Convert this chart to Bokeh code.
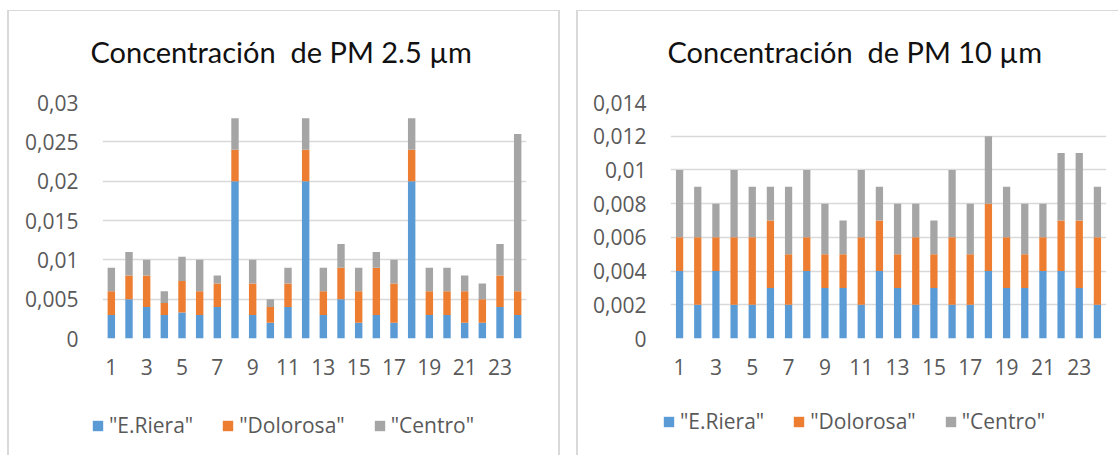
from bokeh.plotting import figure
from bokeh.models import ColumnDataSource, FixedTicker, Legend, LegendItem, Range1d
from bokeh.layouts import row, column
from bokeh.embed import file_html
from bokeh.resources import INLINE

# ---------------- data ----------------
hours = list(range(1, 25))
x_ticks = [1, 3, 5, 7, 9, 11, 13, 15, 17, 19, 21, 23]
x_tick_labels = [str(t) for t in x_ticks]

series_names = ['"E.Riera"', '"Dolorosa"', '"Centro"']
series_colors = ["#5B9BD5", "#ED7D31", "#A5A5A5"]

pm25_title = "Concentración\u00a0 de PM 2.5 µm"
pm25_riera = [0.003, 0.005, 0.004, 0.003, 0.0033, 0.003, 0.004, 0.02, 0.003, 0.002, 0.004, 0.02,
              0.003, 0.005, 0.002, 0.003, 0.002, 0.02, 0.003, 0.003, 0.002, 0.002, 0.004, 0.003]
pm25_dolorosa = [0.003, 0.003, 0.004, 0.0015, 0.004, 0.003, 0.003, 0.004, 0.004, 0.002, 0.003, 0.004,
                 0.003, 0.004, 0.004, 0.006, 0.005, 0.004, 0.003, 0.003, 0.004, 0.003, 0.004, 0.003]
pm25_centro = [0.003, 0.003, 0.002, 0.0015, 0.0031, 0.004, 0.001, 0.004, 0.003, 0.001, 0.002, 0.004,
               0.003, 0.003, 0.003, 0.002, 0.003, 0.004, 0.003, 0.003, 0.002, 0.002, 0.004, 0.02]
pm25_y_ticks = [0, 0.005, 0.01, 0.015, 0.02, 0.025, 0.03]
pm25_y_labels = ["0", "0,005", "0,01", "0,015", "0,02", "0,025", "0,03"]

pm10_title = "Concentración\u00a0 de PM 10 µm"
pm10_riera = [0.004, 0.002, 0.004, 0.002, 0.002, 0.003, 0.002, 0.004, 0.003, 0.003, 0.002, 0.004,
              0.003, 0.002, 0.003, 0.002, 0.002, 0.004, 0.003, 0.003, 0.004, 0.004, 0.003, 0.002]
pm10_dolorosa = [0.002, 0.004, 0.002, 0.004, 0.004, 0.004, 0.003, 0.002, 0.002, 0.002, 0.004, 0.003,
                 0.002, 0.004, 0.002, 0.004, 0.003, 0.004, 0.003, 0.002, 0.002, 0.003, 0.004, 0.004]
pm10_centro = [0.004, 0.003, 0.002, 0.004, 0.003, 0.002, 0.004, 0.004, 0.003, 0.002, 0.004, 0.002,
               0.003, 0.002, 0.002, 0.004, 0.003, 0.004, 0.003, 0.003, 0.002, 0.004, 0.004, 0.003]
pm10_y_ticks = [0, 0.002, 0.004, 0.006, 0.008, 0.01, 0.012, 0.014]
pm10_y_labels = ["0", "0,002", "0,004", "0,006", "0,008", "0,01", "0,012", "0,014"]

GRID = "#d9d9d9"
TXT = "#595959"
BORDER = "2px solid #d9d9d9"
BORDER_TOP = "1px solid #d9d9d9"

TITLE_H = 76
CHART_H = 314
STACK = ["riera", "dolorosa", "centro"]


def make_title(text, width, mb_left, mb_right, offset):
    tp = figure(width=width, height=TITLE_H, output_backend="svg", toolbar_location=None,
                x_axis_type=None, y_axis_type=None, title=text,
                min_border_left=mb_left, min_border_right=mb_right,
                min_border_top=59, min_border_bottom=0,
                x_range=Range1d(0, 1), y_range=Range1d(0, 1))
    tp.outline_line_color = None
    tp.grid.visible = False
    tp.title.text_font = "Lato"
    tp.title.text_font_size = "29px"
    tp.title.text_font_style = "normal"
    tp.title.text_color = "#111111"
    tp.title.align = "left"
    tp.title.vertical_align = "top"
    tp.title.offset = offset
    tp.title.standoff = 0
    return tp


def make_chart(src, yticks, ylabels, width, mb_left, mb_right, bar_w):
    p = figure(width=width, height=CHART_H, output_backend="svg", toolbar_location=None,
               x_range=(0.5, 24.5), y_range=(yticks[0], yticks[-1]),
               min_border_left=mb_left, min_border_right=mb_right,
               min_border_top=15, min_border_bottom=63)
    p.vbar_stack(STACK, x="x", width=bar_w, color=series_colors, line_color=None, source=src)
    p.outline_line_color = None
    p.background_fill_color = "white"
    p.border_fill_color = "white"

    p.xgrid.grid_line_color = None
    p.ygrid.grid_line_color = GRID
    p.ygrid.grid_line_width = 1.3
    p.ygrid.ticker = FixedTicker(ticks=yticks)

    xa = p.xaxis[0]
    xa.ticker = FixedTicker(ticks=x_ticks)
    xa.major_label_overrides = {t: l for t, l in zip(x_ticks, x_tick_labels)}
    ya = p.yaxis[0]
    ya.ticker = FixedTicker(ticks=yticks)
    ya.major_label_overrides = {t: l for t, l in zip(yticks, ylabels)}
    for ax in (xa, ya):
        ax.axis_line_color = None
        ax.major_tick_line_color = None
        ax.minor_tick_line_color = None
        ax.major_tick_out = 0
        ax.major_tick_in = 0
        ax.major_label_text_font = "Open Sans"
        ax.major_label_text_font_size = "21px"
        ax.major_label_text_color = TXT
    xa.major_label_standoff = 20
    ya.major_label_standoff = 24
    return p


def make_legend(src, width, height, left):
    # legend-only strip; its bars fall outside its x range, only the legend shows
    lp = figure(width=width, height=height, output_backend="svg", toolbar_location=None,
                x_axis_type=None, y_axis_type=None, min_border=0,
                x_range=Range1d(-20, -10), y_range=Range1d(0, 1))
    lp.outline_line_color = None
    lp.grid.visible = False
    rs = lp.vbar_stack(STACK, x="x", width=0.4, color=series_colors, line_color=None, source=src)
    legend = Legend(items=[LegendItem(label=n, renderers=[r]) for n, r in zip(series_names, rs)],
                    orientation="horizontal", location="left",
                    label_text_font="Open Sans", label_text_font_size="21px",
                    label_text_color=TXT, glyph_width=13, glyph_height=13,
                    label_standoff=5, spacing=28, padding=0, margin=left,
                    border_line_color=None, background_fill_alpha=0)
    lp.add_layout(legend, "center")
    return lp


src25 = ColumnDataSource(dict(x=hours, riera=pm25_riera, dolorosa=pm25_dolorosa, centro=pm25_centro))
src10 = ColumnDataSource(dict(x=hours, riera=pm10_riera, dolorosa=pm10_dolorosa, centro=pm10_centro))

t1 = make_title(pm25_title, 549, 93, 32, -12)
p1 = make_chart(src25, pm25_y_ticks, pm25_y_labels, 549, 93, 32, 0.42)
l1 = make_legend(src25, 549, 48, 82)
r1 = row(l1)
r1.margin = (0, 0, 7, 0)

t2 = make_title(pm10_title, 546, 92, 18, -3)
p2 = make_chart(src10, pm10_y_ticks, pm10_y_labels, 546, 92, 18, 0.4)
l2 = make_legend(src10, 546, 40, 84)
r2 = row(l2)
r2.margin = (0, 0, 15, 0)

c1 = column(t1, p1, r1, spacing=0,
            styles={"border-left": BORDER, "border-top": BORDER_TOP, "border-right": BORDER})
c1.margin = (10, 0, 0, 7)
c2 = column(t2, p2, r2, spacing=0, styles={"border-left": BORDER, "border-top": BORDER_TOP})
c2.margin = (10, 0, 0, 16)

layout = row(c1, c2, spacing=0)
open("out.html", "w").write(file_html(layout, INLINE))
